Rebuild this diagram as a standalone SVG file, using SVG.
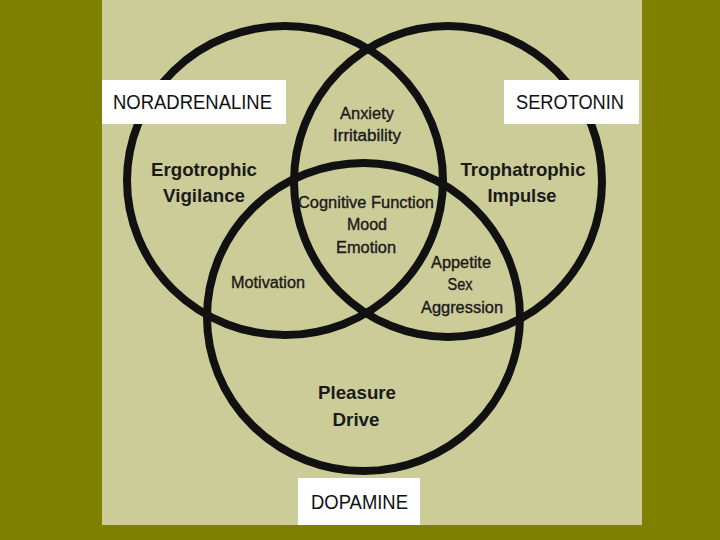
<svg xmlns="http://www.w3.org/2000/svg" width="720" height="540" viewBox="0 0 720 540">
<style>
.c{fill:none;stroke:#111;stroke-width:8}
text{font-family:"Liberation Sans",Arial,sans-serif;text-anchor:middle;fill:#1a1a1a}
.lbl{font-size:21px;fill:#111}
.big{font-size:19px;font-weight:bold}
.sm{font-size:16px;stroke:#1a1a1a;stroke-width:0.35}
.box{fill:#fff}
</style>
<rect x="0" y="0" width="720" height="540" fill="#808000"/>
<rect x="102" y="0" width="540" height="525" fill="#cccc99"/>
<g id="circles">
<ellipse id="noradrenaline-circle" class="c" cx="285" cy="180.5" rx="158" ry="154.5"/>
<ellipse id="serotonin-circle" class="c" cx="448" cy="181.5" rx="154" ry="155.5"/>
<ellipse id="dopamine-circle" class="c" cx="363.5" cy="317" rx="156.5" ry="154"/>
</g>
<g id="noradrenaline">
<rect class="box" x="102" y="80" width="184" height="44"/>
<text class="lbl" x="192.5" y="109" textLength="159" lengthAdjust="spacingAndGlyphs">NORADRENALINE</text>
</g>
<g id="serotonin">
<rect class="box" x="504" y="80" width="135" height="44"/>
<text class="lbl" x="570" y="109" textLength="108" lengthAdjust="spacingAndGlyphs">SEROTONIN</text>
</g>
<g id="dopamine">
<rect class="box" x="298" y="478" width="122" height="47"/>
<text class="lbl" x="359.5" y="509" textLength="97" lengthAdjust="spacingAndGlyphs">DOPAMINE</text>
</g>
<g id="ergotrophic">
<text class="big" x="204" y="176" textLength="106" lengthAdjust="spacingAndGlyphs">Ergotrophic</text>
<text class="big" x="204" y="202" textLength="82" lengthAdjust="spacingAndGlyphs">Vigilance</text>
</g>
<g id="trophatrophic">
<text class="big" x="523" y="176" textLength="125" lengthAdjust="spacingAndGlyphs">Trophatrophic</text>
<text class="big" x="522" y="202" textLength="69" lengthAdjust="spacingAndGlyphs">Impulse</text>
</g>
<g id="anxiety">
<text class="sm" x="367" y="119" textLength="54" lengthAdjust="spacingAndGlyphs">Anxiety</text>
<text class="sm" x="367" y="141" textLength="68" lengthAdjust="spacingAndGlyphs">Irritability</text>
</g>
<g id="cognitive">
<text class="sm" x="366" y="208" textLength="136" lengthAdjust="spacingAndGlyphs">Cognitive Function</text>
<text class="sm" x="367" y="230" textLength="40" lengthAdjust="spacingAndGlyphs">Mood</text>
<text class="sm" x="366" y="253" textLength="60" lengthAdjust="spacingAndGlyphs">Emotion</text>
</g>
<g id="motivation">
<text class="sm" x="268" y="288" textLength="74" lengthAdjust="spacingAndGlyphs">Motivation</text>
</g>
<g id="appetite">
<text class="sm" x="461" y="268" textLength="60" lengthAdjust="spacingAndGlyphs">Appetite</text>
<text class="sm" x="460" y="290" textLength="25" lengthAdjust="spacingAndGlyphs">Sex</text>
<text class="sm" x="462" y="313" textLength="82" lengthAdjust="spacingAndGlyphs">Aggression</text>
</g>
<g id="pleasure">
<text class="big" x="357" y="399" textLength="78" lengthAdjust="spacingAndGlyphs">Pleasure</text>
<text class="big" x="356" y="426" textLength="47" lengthAdjust="spacingAndGlyphs">Drive</text>
</g>
</svg>
